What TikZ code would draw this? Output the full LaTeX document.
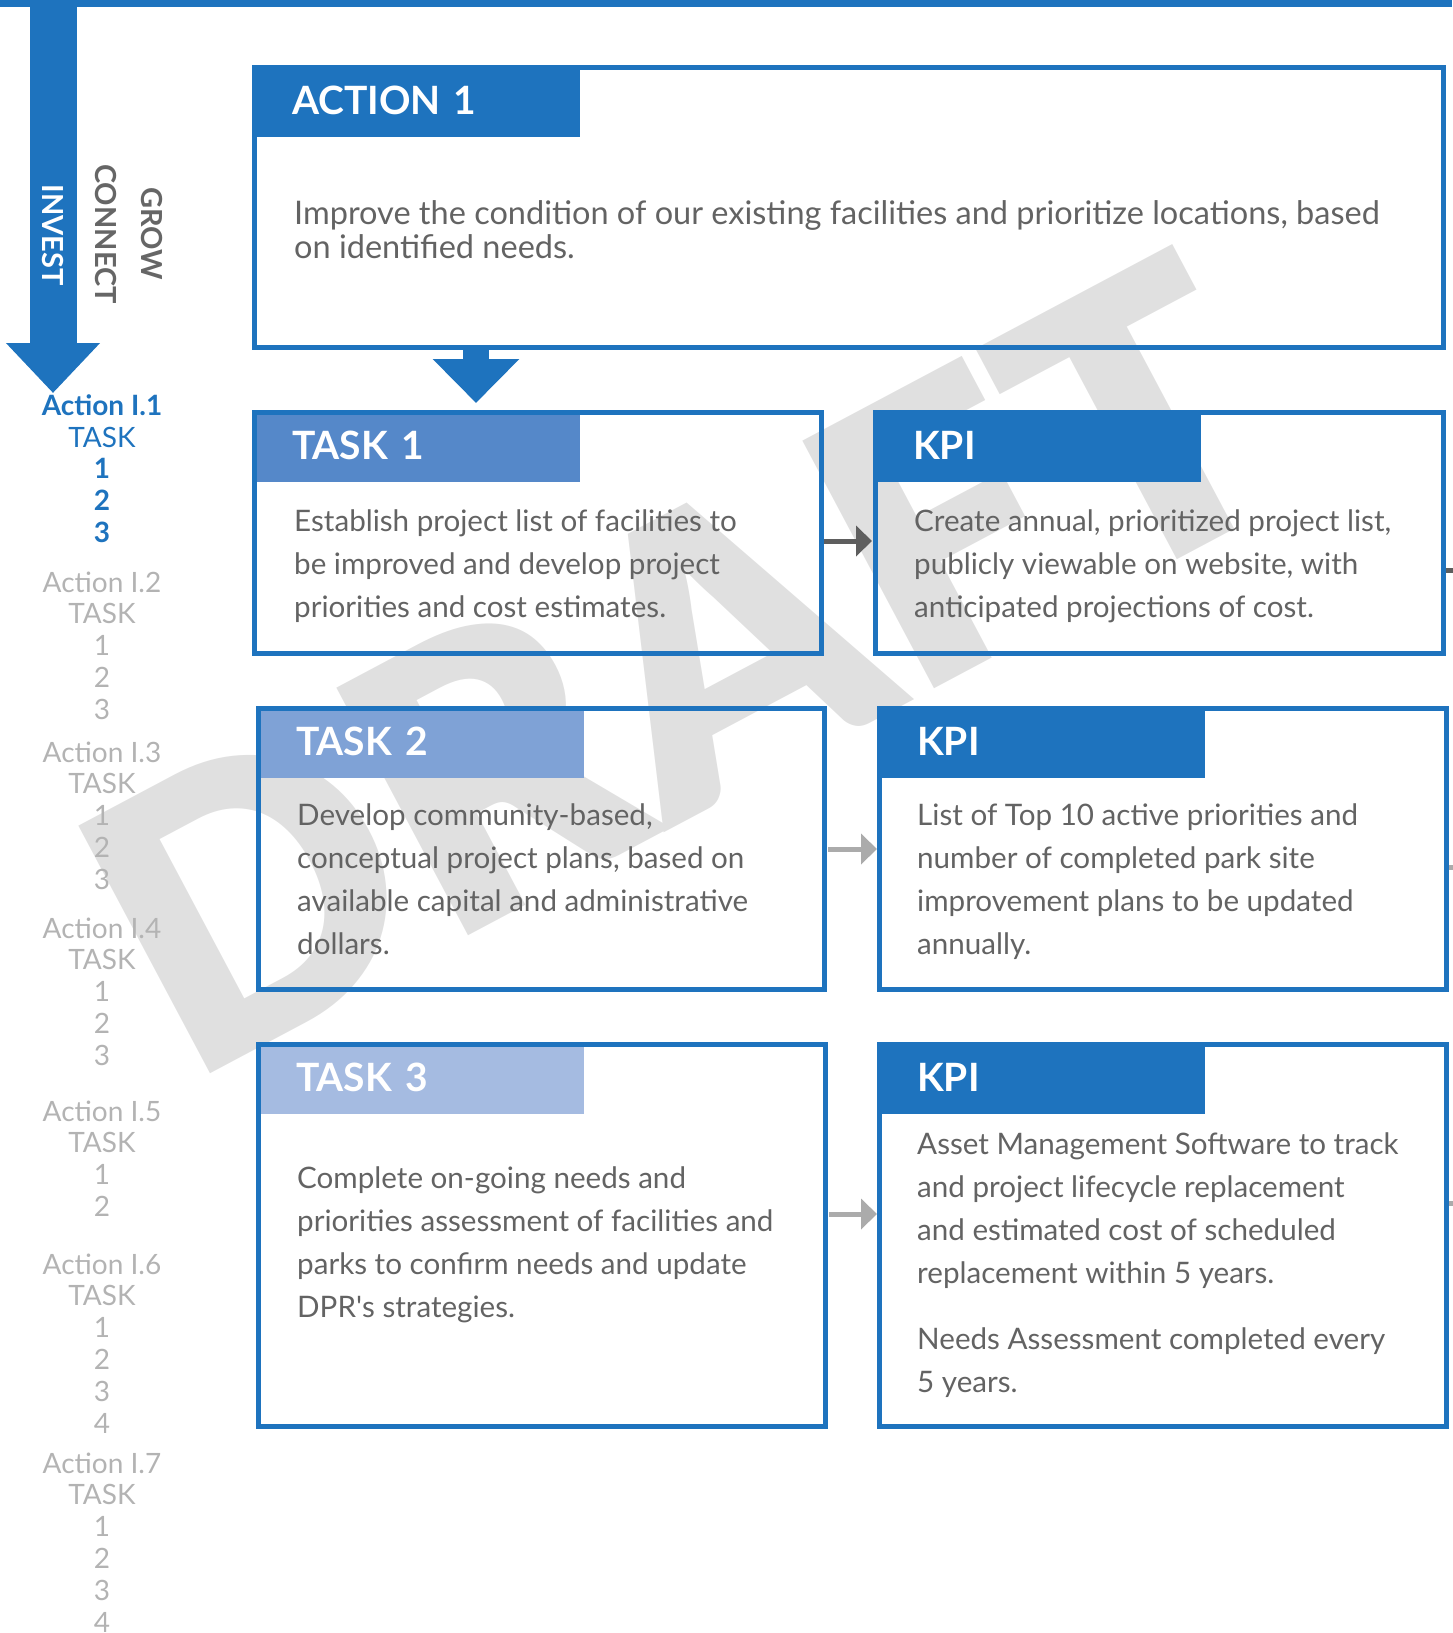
\documentclass[tikz,border=0pt]{standalone}
\usepackage{fontspec}
\setmainfont{Lato}
\newfontfamily\draftfont{Lato Black}
\usetikzlibrary{arrows.meta,positioning}
\definecolor{dprblue}{HTML}{1E73BE}
\definecolor{taskone}{HTML}{5588C9}
\definecolor{tasktwo}{HTML}{7FA2D6}
\definecolor{taskthree}{HTML}{A5BBE1}
\definecolor{textgray}{HTML}{636363}
\definecolor{sidegray}{HTML}{B3B3B3}
\definecolor{pillargray}{HTML}{666666}
\definecolor{darklink}{HTML}{5E5E5E}
\definecolor{lightlink}{HTML}{ABABAB}
\definecolor{wmgray}{HTML}{E0E0E0}

\begin{document}
\begin{tikzpicture}[x=1pt, y=-1pt,
        frame/.style={draw=dprblue, line width=5pt, outer sep=0pt, inner sep=0pt},
        head/.style={fill=#1, minimum width=323pt, minimum height=67pt, inner xsep=35pt, text width=253pt, align=left, text height=28pt, text depth=6pt, text=white, font=\fontsize{39}{39}\selectfont\bfseries},
        body/.style={anchor=north west, inner sep=0pt, align=left, text=textgray, font=\fontsize{29.6}{43}\selectfont},
        side/.style={anchor=base, inner sep=0pt, text=sidegray, font=\fontsize{28}{28}\selectfont},
        sidebold/.style={side, text=dprblue, font=\fontsize{28}{28}\selectfont\bfseries},
        pillar/.style={rotate=-90, inner sep=0pt, text=pillargray, font=\fontsize{29}{29}\selectfont\bfseries},
        link/.style={line width=5pt, -{Triangle[length=16pt,width=30pt]}}
    ]
    \useasboundingbox (0,0) rectangle (1452,1633);
    % watermark
    \node [rotate=28, text=wmgray, font=\fontsize{385}{385}\selectfont\draftfont] (draft) at (682,664) {DRAFT};
    % top rule and pillar arrow
    \fill [dprblue] (0,0) rectangle (1452,7);
    \coordinate (spine) at (53,0);
    \coordinate (spinetip) at (53,393);
    \draw [dprblue, line width=47pt, -{Triangle[length=50pt,width=91pt]}] (spine) -- (spinetip);
    \node [pillar, text=white] (invest) at (53,235) {INVEST};
    \node [pillar] (connect) at (106,234) {CONNECT};
    \node [pillar] (grow) at (152,234) {GROW};
    % side list
    \node [sidebold] (act1) at (102,415) {Action I.1};
    \node [side, text=dprblue] (act1t) at (102,447) {TASK};
    \foreach \i in {1,2,3}
        \node [sidebold] (act1-\i) at (102,447+31.8*\i) {\i};
    \foreach \n/\y/\k in {2/592/3, 3/762/3, 4/938/3, 5/1121/2, 6/1274/4, 7/1473/4} {
        \node [side] (act\n) at (102,\y) {Action I.\n};
        \node [side] (act\n t) at (102,\y+31.8) {TASK};
        \foreach \i in {1,...,\k}
            \node [side] (act\n-\i) at (102,\y+31.8+31.8*\i) {\i};
    }
    % frames
    \node [frame, minimum width=1189pt, minimum height=280pt] (action) at (849,207.5) {};
    \node [frame, minimum width=567pt, minimum height=241pt] (task1) at (538,533) {};
    \node [frame, minimum width=568pt, minimum height=241pt] (kpi1) at (1159.5,533) {};
    \node [frame, minimum width=566pt, minimum height=281pt] (task2) at (541.5,849) {};
    \node [frame, minimum width=567pt, minimum height=281pt] (kpi2) at (1163,849) {};
    \node [frame, minimum width=567pt, minimum height=382pt] (task3) at (542,1235.5) {};
    \node [frame, minimum width=567pt, minimum height=382pt] (kpi3) at (1163,1235.5) {};
    % headers
    \node [head=dprblue, below right=2.5pt and 2.5pt of action.north west] (actionh) {ACTION 1};
    \node [head=taskone, below right=2.5pt and 2.5pt of task1.north west] (task1h) {TASK 1};
    \node [head=dprblue, below right=2.5pt and 2.5pt of kpi1.north west] (kpi1h) {KPI};
    \node [head=tasktwo, below right=2.5pt and 2.5pt of task2.north west] (task2h) {TASK 2};
    \node [head=dprblue, below right=2.5pt and 2.5pt of kpi2.north west] (kpi2h) {KPI};
    \node [head=taskthree, below right=2.5pt and 2.5pt of task3.north west] (task3h) {TASK 3};
    \node [head=dprblue, below right=2.5pt and 2.5pt of kpi3.north west] (kpi3h) {KPI};
    % texts
    \node [body, font=\fontsize{32.5}{34}\selectfont] (actiontxt) at (294,199) {\rule{0pt}{25pt}Improve the condition of our existing facilities and prioritize locations, based\\on identified needs.};
    \node [body] (task1txt) at (294,506) {\rule{0pt}{25pt}Establish project list of facilities to\\be improved and develop project\\priorities and cost estimates.};
    \node [body] (kpi1txt) at (914,506) {\rule{0pt}{25pt}Create annual, prioritized project list,\\publicly viewable on website, with\\anticipated projections of cost.};
    \node [body] (task2txt) at (297,800) {\rule{0pt}{25pt}Develop community-based,\\conceptual project plans, based on\\available capital and administrative\\dollars.};
    \node [body] (kpi2txt) at (917,800) {\rule{0pt}{25pt}List of Top 10 active priorities and\\number of completed park site\\improvement plans to be updated\\annually.};
    \node [body] (task3txt) at (297,1163) {\rule{0pt}{25pt}Complete on-going needs and\\priorities assessment of facilities and\\parks to confirm needs and update\\DPR\textquotesingle s strategies.};
    \node [body] (kpi3txt) at (917,1129) {\rule{0pt}{25pt}Asset Management Software to track\\and project lifecycle replacement\\and estimated cost of scheduled\\replacement within 5 years.\\[23pt]Needs Assessment completed every\\5 years.};
    % connectors
    \coordinate (drop) at (476,403);
    \draw [dprblue, line width=26pt, -{Triangle[length=44pt,width=84pt]}] (action.south -| drop) -- (drop);
    \draw [link, darklink, shorten <=2.5pt, shorten >=3.5pt] ([yshift=-8pt]task1.east) -- ([yshift=-8pt]kpi1.west);
    \draw [link, lightlink, shorten <=3.5pt, shorten >=2.5pt] (task2.east) -- (kpi2.west);
    \draw [link, lightlink, shorten <=3.5pt, shorten >=2.5pt] ([yshift=21.5pt]task3.east) -- ([yshift=21.5pt]kpi3.west);
    \coordinate (off1) at (1460,570);
    \coordinate (off2) at (1460,867);
    \coordinate (off3) at (1460,1203);
    \draw [darklink, line width=5pt, shorten <=2.5pt] (kpi1.east |- off1) -- (off1);
    \draw [lightlink, line width=5pt, shorten <=2.5pt] (kpi2.east |- off2) -- (off2);
    \draw [lightlink, line width=5pt, shorten <=2.5pt] (kpi3.east |- off3) -- (off3);
\end{tikzpicture}
\end{document}
